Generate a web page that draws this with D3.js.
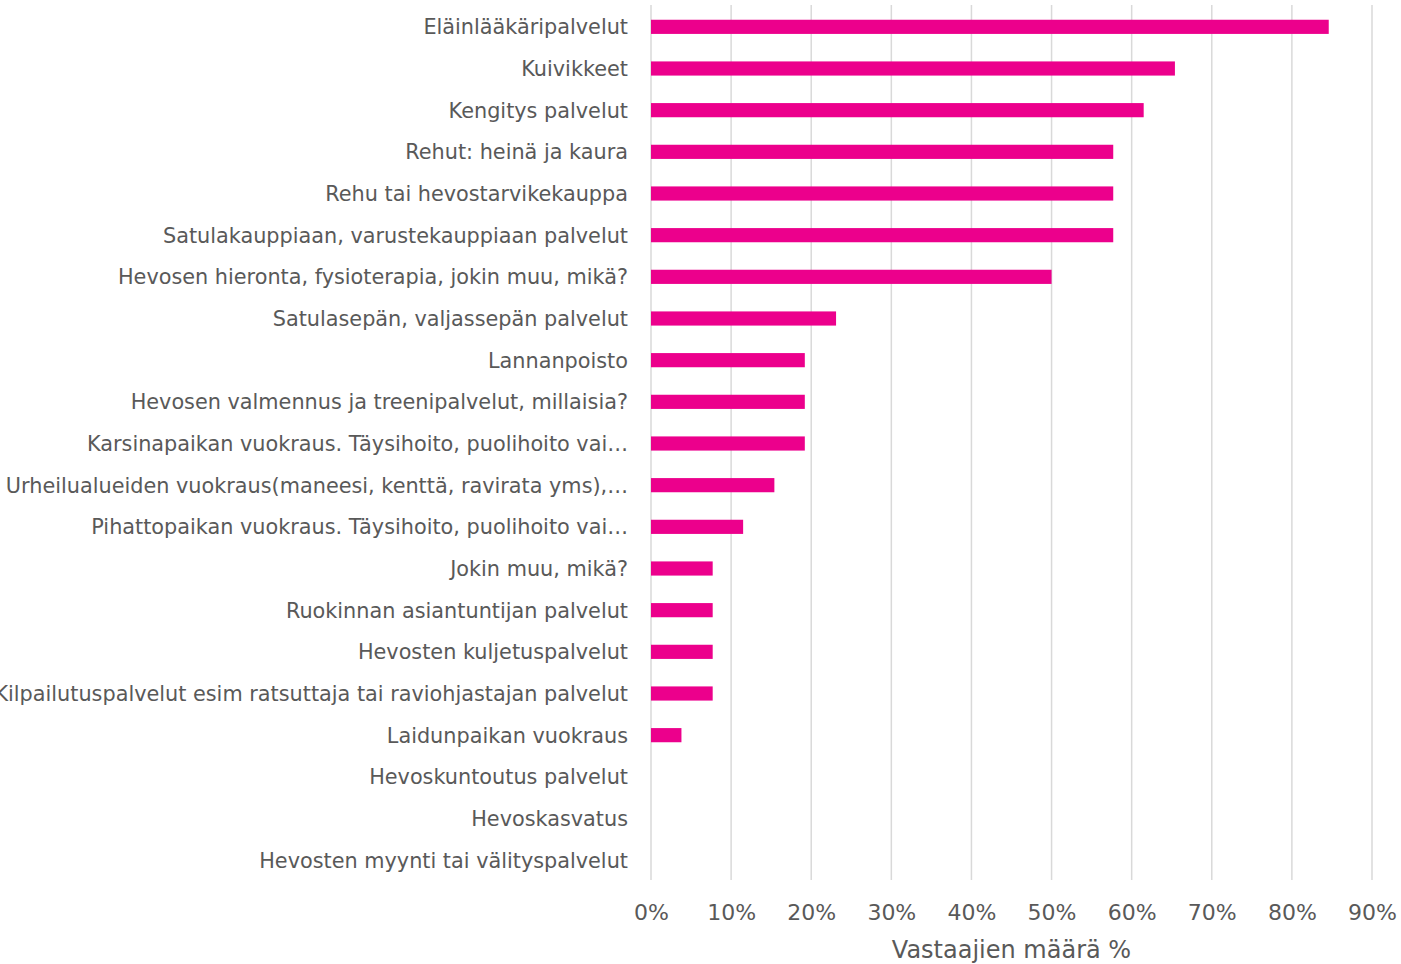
<!DOCTYPE html>
<html>
<head>
<meta charset="utf-8">
<script src="https://cdn.jsdelivr.net/npm/d3@7"></script>
<style>
  body { margin: 0; background: #fff; }
  text { font-family: "DejaVu Sans", Verdana, sans-serif; fill: #595959; }
</style>
</head>
<body>
<svg id="chart" width="1401" height="964"></svg>
<script>
// categories, top to bottom
const categories = [
  "Eläinlääkäripalvelut",
  "Kuivikkeet",
  "Kengitys palvelut",
  "Rehut: heinä ja kaura",
  "Rehu tai hevostarvikekauppa",
  "Satulakauppiaan, varustekauppiaan palvelut",
  "Hevosen hieronta, fysioterapia, jokin muu, mikä?",
  "Satulasepän, valjassepän palvelut",
  "Lannanpoisto",
  "Hevosen valmennus ja treenipalvelut, millaisia?",
  "Karsinapaikan vuokraus. Täysihoito, puolihoito vai…",
  "Urheilualueiden vuokraus(maneesi, kenttä, ravirata yms),…",
  "Pihattopaikan vuokraus. Täysihoito, puolihoito vai…",
  "Jokin muu, mikä?",
  "Ruokinnan asiantuntijan palvelut",
  "Hevosten kuljetuspalvelut",
  "Kilpailutuspalvelut esim ratsuttaja tai raviohjastajan palvelut",
  "Laidunpaikan vuokraus",
  "Hevoskuntoutus palvelut",
  "Hevoskasvatus",
  "Hevosten myynti tai välityspalvelut"
];
// share of respondents, %
const values = [84.6, 65.4, 61.5, 57.7, 57.7, 57.7, 50.0, 23.1, 19.2, 19.2, 19.2, 15.4, 11.5, 7.7, 7.7, 7.7, 7.7, 3.8, 0, 0, 0];
const tickValues = [0, 10, 20, 30, 40, 50, 60, 70, 80, 90];
const axisTitle = "Vastaajien määrä %";

const svg = d3.select("#chart");
const plotLeft = 651, plotRight = 1372, plotTop = 5, plotBottom = 880;

const x = d3.scaleLinear().domain([0, 90]).range([plotLeft, plotRight]);
const y = d3.scaleBand().domain(categories).range([plotTop + 1, plotBottom + 1]).paddingInner(0.66).paddingOuter(0.33);

// gridlines
svg.append("g")
  .selectAll("line")
  .data(tickValues)
  .join("line")
  .attr("x1", d => x(d)).attr("x2", d => x(d))
  .attr("y1", plotTop).attr("y2", plotBottom)
  .attr("stroke", "#d9d9d9")
  .attr("stroke-width", 1.5);

// bars
svg.append("g")
  .selectAll("rect")
  .data(values)
  .join("rect")
  .attr("x", x(0))
  .attr("y", (d, i) => y(categories[i]))
  .attr("width", d => x(d) - x(0))
  .attr("height", y.bandwidth())
  .attr("fill", "#ec008c");

// category labels
const yAxis = svg.append("g")
  .attr("transform", `translate(${plotLeft},1)`)
  .call(d3.axisLeft(y).tickSize(0).tickPadding(23));
yAxis.select(".domain").remove();
yAxis.selectAll("text")
  .style("font-size", "20.8px")
  .style("font-family", "DejaVu Sans, Verdana, sans-serif")
  .attr("fill", "#595959");

// x tick labels
const xAxis = svg.append("g")
  .attr("transform", `translate(0,${plotBottom})`)
  .call(d3.axisBottom(x).tickValues(tickValues).tickFormat(d => d + "%").tickSize(0).tickPadding(24));
xAxis.select(".domain").remove();
xAxis.selectAll("text")
  .style("font-size", "22px")
  .style("font-family", "DejaVu Sans, Verdana, sans-serif")
  .attr("fill", "#595959");

// axis title
svg.append("text")
  .attr("x", (plotLeft + plotRight) / 2)
  .attr("y", 958)
  .attr("text-anchor", "middle")
  .style("font-size", "24px")
  .text(axisTitle);
</script>
</body>
</html>
